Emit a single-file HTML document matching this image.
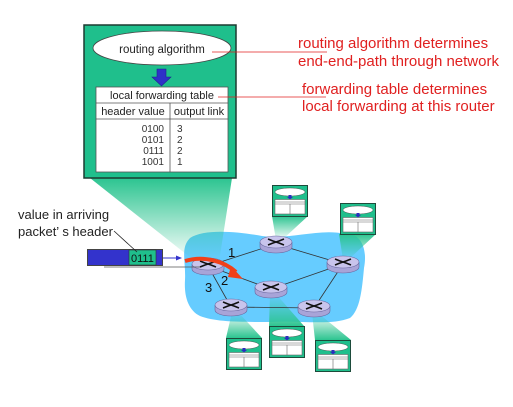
<!DOCTYPE html>
<html><head><style>
body{margin:0;background:#fff;}
svg{display:block;font-family:"Liberation Sans",sans-serif;}
</style></head><body>
<svg width="513" height="407" viewBox="0 0 513 407">
<defs>
<linearGradient id="cg" x1="0" y1="0" x2="0" y2="1">
<stop offset="0" stop-color="#2cc490"/><stop offset="1" stop-color="#2cc490" stop-opacity="0"/>
</linearGradient>
<linearGradient id="cgu" x1="0" y1="1" x2="0" y2="0">
<stop offset="0" stop-color="#2cc490"/><stop offset="1" stop-color="#2cc490" stop-opacity="0"/>
</linearGradient>
<g id="mt">
<rect x="0.5" y="0.5" width="35" height="31" fill="#1fbf8c" stroke="#1d4b3b" stroke-width="1"/>
<ellipse cx="18" cy="7" rx="15" ry="4" fill="#fff" stroke="#333" stroke-width="0.4"/>
<path d="M16.5 10h3v2h1.5l-3 2.5-3-2.5h1.5z" fill="#2a2ec0"/>
<rect x="3" y="14.5" width="30" height="14.5" fill="#fff" stroke="#666" stroke-width="0.6"/>
<line x1="3" y1="17" x2="33" y2="17" stroke="#666" stroke-width="0.5"/>
<line x1="3" y1="19" x2="33" y2="19" stroke="#666" stroke-width="0.5"/>
<line x1="18" y1="19" x2="18" y2="29" stroke="#666" stroke-width="0.6"/>
</g>
<g id="rt">
<path d="M-16 0v5a16 6 0 0 0 32 0v-5" fill="#a8a4d8" stroke="#6a68a0" stroke-width="0.6"/>
<ellipse cx="0" cy="0" rx="16" ry="6" fill="#c8c4ec" stroke="#6a68a0" stroke-width="0.6"/>
<path d="M-8 -3l5 2M8 -3l-5 2M-8 3l5 -2M8 3l-5 -2M-3 -1l6 2M3 -1l-6 2" stroke="#111" stroke-width="1.6"/>
</g>
</defs>

<path d="M190 238 C205 228,240 232,262 236 C290 240,320 228,345 234 C360 232,368 248,364 268 C362 290,360 310,350 318 C330 326,300 320,270 322 C240 322,215 322,200 316 C188 310,184 296,185 280 C186 262,180 248,190 238Z" fill="#66ccff"/>

<polygon points="90,178 232,178 219,262 196,262" fill="url(#cg)"/>
<polygon points="272,216 308,216 282,240 276,240" fill="url(#cg)"/>
<polygon points="339,234 376,234 348,260 343,260" fill="url(#cg)"/>
<polygon points="232,312 238,312 262,338 226,338" fill="url(#cgu)"/>
<polygon points="270,294 276,294 304,326 269,326" fill="url(#cgu)"/>
<polygon points="312,313 318,313 351,340 315,340" fill="url(#cgu)"/>

<g stroke="#333" stroke-width="0.8">
<line x1="208" y1="266" x2="276" y2="244"/>
<line x1="276" y1="244" x2="343" y2="264"/>
<line x1="208" y1="266" x2="271" y2="289"/>
<line x1="271" y1="289" x2="343" y2="264"/>
<line x1="208" y1="266" x2="231" y2="307"/>
<line x1="231" y1="307" x2="314" y2="308"/>
<line x1="343" y1="264" x2="314" y2="308"/>
</g>
<use href="#rt" x="208" y="264"/>
<use href="#rt" x="276" y="242"/>
<use href="#rt" x="343" y="262"/>
<use href="#rt" x="271" y="287"/>
<use href="#rt" x="231" y="305"/>
<use href="#rt" x="314" y="306"/>

<path d="M185 261 C205 255,225 262,236 272" fill="none" stroke="#f0401a" stroke-width="4"/>
<polygon points="231,266 243,279 228,277" fill="#f0401a"/>

<text x="228" y="257" font-size="13" fill="#111">1</text>
<text x="221" y="285" font-size="13" fill="#111">2</text>
<text x="205" y="292" font-size="13" fill="#111">3</text>

<use href="#mt" x="272" y="185"/>
<use href="#mt" x="340" y="203"/>
<use href="#mt" x="226" y="338"/>
<use href="#mt" x="269" y="326"/>
<use href="#mt" x="315" y="340"/>

<line x1="104" y1="267" x2="200" y2="267" stroke="#555" stroke-width="0.8"/>
<rect x="87.5" y="249.5" width="75" height="16" fill="#3333cc" stroke="#444" stroke-width="1"/>
<rect x="129" y="250" width="27" height="15" fill="#1fbf8c" stroke="#333" stroke-width="0.6"/>
<text x="131" y="262" font-size="11" fill="#111">0111</text>
<line x1="163" y1="258" x2="178" y2="258" stroke="#3333cc" stroke-width="1"/>
<polygon points="182,258 176,255.5 176,260.5" fill="#3333cc"/>
<line x1="114" y1="231" x2="137" y2="252" stroke="#222" stroke-width="0.8"/>
<text x="18" y="219" font-size="13" fill="#222">value in arriving</text>
<text x="18" y="236" font-size="13" fill="#222">packet’ s header</text>

<rect x="84" y="25" width="152" height="153" fill="#1fbf8c" stroke="#1d3a30" stroke-width="1.5"/>
<ellipse cx="162" cy="48" rx="69" ry="17" fill="#fff" stroke="#444" stroke-width="0.8"/>
<text x="162" y="53" font-size="11.5" fill="#222" text-anchor="middle">routing algorithm</text>
<path d="M157 69h9v8h5l-9.5 9-9.5-9h5z" fill="#2e32c8" stroke="#1e2290" stroke-width="0.6"/>
<rect x="96" y="87" width="132" height="85" fill="#fff" stroke="#555" stroke-width="0.8"/>
<line x1="96" y1="103" x2="228" y2="103" stroke="#555" stroke-width="0.8"/>
<line x1="96" y1="119" x2="228" y2="119" stroke="#555" stroke-width="0.8"/>
<line x1="170" y1="103" x2="170" y2="172" stroke="#555" stroke-width="0.8"/>
<text x="162" y="99" font-size="11" fill="#222" text-anchor="middle">local forwarding table</text>
<text x="133" y="115" font-size="11" fill="#222" text-anchor="middle">header value</text>
<text x="199" y="115" font-size="11" fill="#222" text-anchor="middle">output link</text>
<g font-size="10" fill="#333">
<text x="164" y="132" text-anchor="end">0100</text><text x="177" y="132">3</text>
<text x="164" y="143" text-anchor="end">0101</text><text x="177" y="143">2</text>
<text x="164" y="154" text-anchor="end">0111</text><text x="177" y="154">2</text>
<text x="164" y="165" text-anchor="end">1001</text><text x="177" y="165">1</text>
</g>

<line x1="212" y1="52" x2="327" y2="52" stroke="#e02020" stroke-width="0.8"/>
<line x1="218" y1="97" x2="326" y2="97" stroke="#e02020" stroke-width="0.8"/>
<g font-size="15" fill="#e02020">
<text x="298" y="48">routing algorithm determines</text>
<text x="298" y="66">end-end-path through network</text>
<text x="302" y="94">forwarding table determines</text>
<text x="302" y="111">local forwarding at this router</text>
</g>
</svg>
</body></html>
